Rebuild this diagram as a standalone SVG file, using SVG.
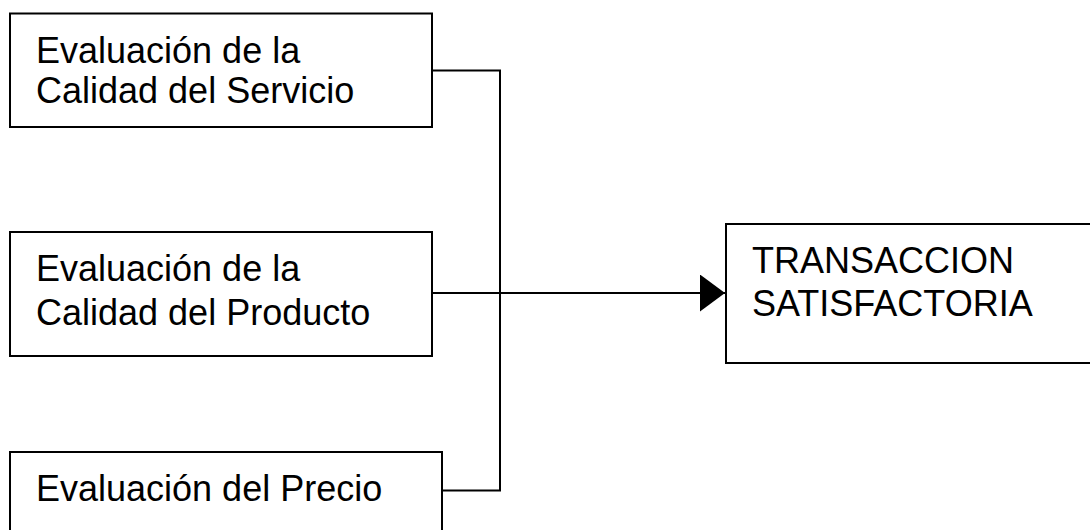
<svg xmlns="http://www.w3.org/2000/svg" width="1090" height="530" viewBox="0 0 1090 530">
<style>
.box{fill:#fff;stroke:#000;stroke-width:2}
.t{font-family:"Liberation Sans",Arial,sans-serif;font-size:36px;fill:#000}
.c{fill:none;stroke:#000;stroke-width:2}
</style>
<defs>
<marker id="arr" markerUnits="userSpaceOnUse" markerWidth="26" markerHeight="38" refX="25" refY="18.5" orient="auto">
<path d="M0,0 L25,18.5 L0,37 Z" fill="#000"/>
</marker>
</defs>
<rect width="1090" height="530" fill="#fff"/>
<g id="connectors">
<path class="c" d="M432,70.5 H500 V490.5 H442"/>
<path class="c" d="M432,293 H725" marker-end="url(#arr)"/>
</g>
<g id="n1">
<rect class="box" x="10" y="13.5" width="422" height="113.5"/>
<text class="t" x="36" y="63">Evaluación de la</text>
<text class="t" x="36" y="103">Calidad del Servicio</text>
</g>
<g id="n2">
<rect class="box" x="10" y="232" width="422" height="124"/>
<text class="t" x="36" y="281">Evaluación de la</text>
<text class="t" x="36" y="325">Calidad del Producto</text>
</g>
<g id="n3">
<rect class="box" x="10" y="452" width="432" height="90"/>
<text class="t" x="36" y="501">Evaluación del Precio</text>
</g>
<g id="n4">
<rect class="box" x="726" y="224" width="380" height="139"/>
<text class="t" x="752" y="273">TRANSACCION</text>
<text class="t" x="752" y="316">SATISFACTORIA</text>
</g>
</svg>
